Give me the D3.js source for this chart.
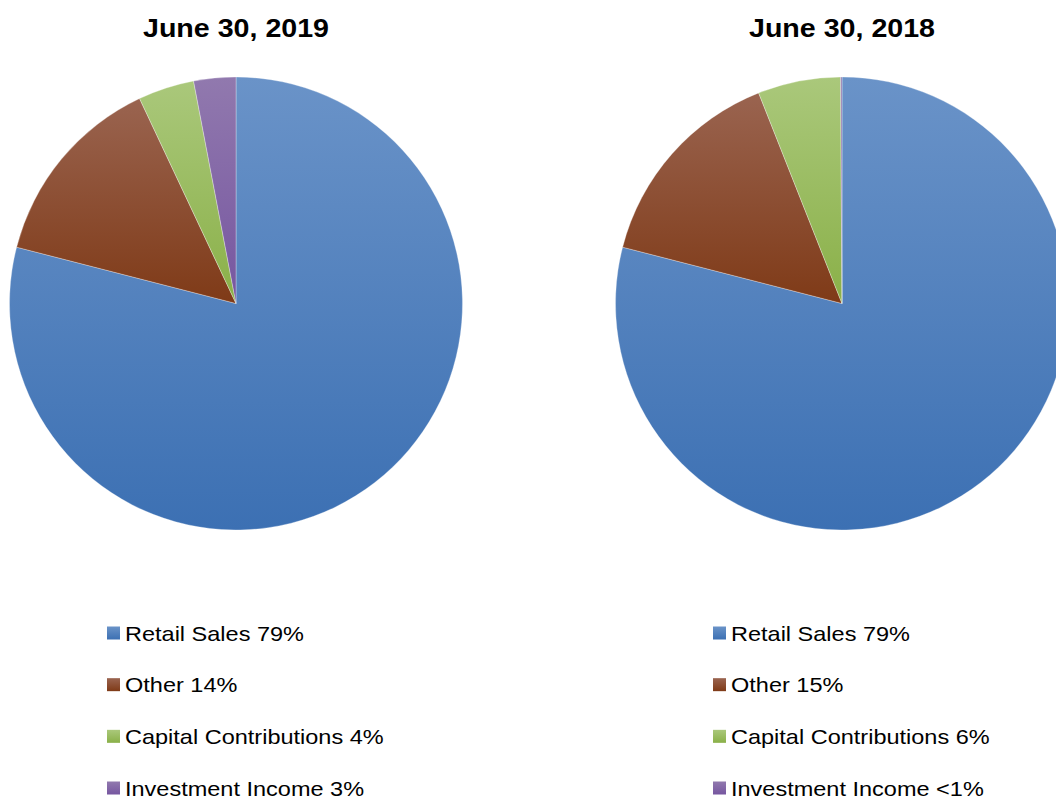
<!DOCTYPE html>
<html>
<head>
<meta charset="utf-8">
<script src="https://cdn.jsdelivr.net/npm/d3@7"></script>
<style>
  html, body { margin: 0; padding: 0; background: #fff; }
  svg { display: block; font-family: "Liberation Sans", Arial, sans-serif; }
</style>
</head>
<body>
<svg id="chart" width="1056" height="796"></svg>
<script>
// chart data
const categories = ['Retail Sales', 'Other', 'Capital Contributions', 'Investment Income'];
const titles = ['June 30, 2019', 'June 30, 2018'];
const values2019 = [79, 14, 4, 3];
const values2018 = [79, 15, 5.9, 0.1];
const labels2019 = ['79%', '14%', '4%', '3%'];
const labels2018 = ['79%', '15%', '6%', '<1%'];

// gradient stops per slice colour (top, bottom)
const colors = [
    ['#6a93c8', '#3c70b3'],
    ['#9a6450', '#7f3a17'],
    ['#aac87b', '#8ab048'],
    ['#9179ae', '#7656a0']
];

const svg = d3.select('#chart');
const defs = svg.append('defs');

colors.forEach((c, i) => {
    const grad = defs.append('linearGradient')
        .attr('id', 'grad' + i)
        .attr('x1', 0).attr('y1', 0)
        .attr('x2', 0).attr('y2', 1);
    grad.append('stop').attr('offset', '0%').attr('stop-color', c[0]);
    grad.append('stop').attr('offset', '100%').attr('stop-color', c[1]);
});

const panels = [
    { title: titles[0], values: values2019, labels: labels2019, cx: 236, legendX: 107 },
    { title: titles[1], values: values2018, labels: labels2018, cx: 842, legendX: 713 }
];

const radius = 226.5;
const cy = 303.5;

const pie = d3.pie().value(d => d).sort(null);
const arc = d3.arc().innerRadius(0).outerRadius(radius);

// legend row positions
const legendY = d3.scalePoint()
    .domain(categories)
    .range([633, 788]);

panels.forEach(p => {
    svg.append('text')
        .attr('transform', `translate(${p.cx},37) scale(1.1,1)`)
        .attr('text-anchor', 'middle')
        .style('font-size', '26px')
        .style('font-weight', 'bold')
        .style('fill', '#000')
        .text(p.title);

    const g = svg.append('g')
        .attr('transform', `translate(${p.cx},${cy})`);

    g.selectAll('path')
        .data(pie(p.values))
        .enter().append('path')
        .attr('d', arc)
        .attr('fill', (d, i) => `url(#grad${i})`)
        .attr('stroke', '#ffffff')
        .attr('stroke-opacity', 0.5)
        .attr('stroke-width', 0.6);

    const lg = svg.append('g');
    categories.forEach((c, i) => {
        const y = legendY(c);
        lg.append('rect')
            .attr('x', p.legendX)
            .attr('y', y - 6.5)
            .attr('width', 13)
            .attr('height', 13)
            .attr('fill', `url(#grad${i})`);
        lg.append('text')
            .attr('transform', `translate(${p.legendX + 18},${y + 7.5}) scale(1.12,1)`)
            .style('font-size', '21px')
            .style('fill', '#000')
            .text(`${c} ${p.labels[i]}`);
    });
});
</script>
</body>
</html>
